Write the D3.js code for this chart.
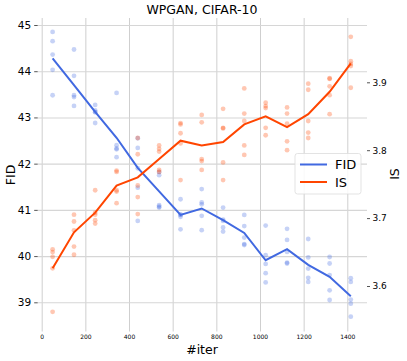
<!DOCTYPE html>
<html>
<head>
<meta charset="utf-8">
<script src="https://cdn.jsdelivr.net/npm/d3@7"></script>
<style>
  body { margin: 0; background: #fff; }
  text { font-family: "DejaVu Sans", sans-serif; fill: #000; }
</style>
</head>
<body>
<svg id="chart"></svg>
<script>
const iters = [50, 148, 245, 343, 440, 538, 636, 733, 831, 928, 1026, 1124, 1221, 1319, 1416];

const fidMean = [44.28, 43.70, 43.12, 42.56, 41.91, 41.40, 40.89, 41.03, 40.78, 40.50, 39.91, 40.15, 39.81, 39.55, 39.13];
const isMean = [3.626, 3.679, 3.708, 3.748, 3.760, 3.787, 3.814, 3.807, 3.812, 3.838, 3.850, 3.834, 3.853, 3.886, 3.928];

const fidRuns = [
  [44.85, 44.65, 44.36, 44.03, 43.48],
  [44.47, 43.90, 43.48, 43.44, 43.25],
  [43.27, 43.15, 43.12, 43.11, 42.88],
  [43.53, 42.40, 42.33, 42.31, 42.14],
  [42.55, 42.34, 41.90, 41.48, 40.76],
  [41.82, 41.75, 41.10, 41.07, 41.05],
  [41.23, 40.90, 40.89, 40.85, 40.58],
  [41.45, 41.16, 41.12, 40.87, 40.56],
  [41.05, 40.79, 40.76, 40.62, 40.53],
  [40.89, 40.65, 40.40, 40.26, 40.24],
  [40.66, 40.02, 39.83, 39.63, 39.43],
  [40.59, 40.35, 40.09, 39.86, 39.84],
  [40.37, 39.97, 39.73, 39.53, 39.44],
  [39.98, 39.84, 39.59, 39.26, 39.05],
  [39.52, 39.44, 39.06, 38.97, 38.69]
];

const isRuns = [
  [3.654, 3.650, 3.643, 3.626, 3.562],
  [3.705, 3.695, 3.682, 3.658, 3.646],
  [3.741, 3.708, 3.705, 3.697, 3.692],
  [3.770, 3.768, 3.741, 3.739, 3.722],
  [3.818, 3.794, 3.748, 3.731, 3.706],
  [3.807, 3.802, 3.798, 3.771, 3.768],
  [3.840, 3.838, 3.825, 3.810, 3.756],
  [3.852, 3.841, 3.787, 3.784, 3.771],
  [3.861, 3.833, 3.832, 3.782, 3.756],
  [3.891, 3.854, 3.843, 3.807, 3.793],
  [3.870, 3.865, 3.862, 3.833, 3.822],
  [3.863, 3.854, 3.839, 3.813, 3.800],
  [3.898, 3.889, 3.843, 3.826, 3.818],
  [3.906, 3.905, 3.894, 3.881, 3.853],
  [3.967, 3.931, 3.927, 3.924, 3.892]
];

const xTicks = [0, 200, 400, 600, 800, 1000, 1200, 1400];
const fidTicks = [39, 40, 41, 42, 43, 44, 45];
const isTicks = [3.6, 3.7, 3.8, 3.9];

const width = 407;
const height = 361;
const plot = { left: 37.7, right: 367, top: 18, bottom: 328 };

const blue = "#4169e1";
const orange = "#ff4500";

const svg = d3.select("#chart")
  .attr("width", width)
  .attr("height", height);

const xScale = d3.scaleLinear().domain([0, 1400]).range([41.7, 347.3]);
const yFid = d3.scaleLinear().domain([39, 45]).range([302.3, 25]);
const yIs = d3.scaleLinear().domain([3.6, 3.9]).range([286, 82.3]);

// grid
svg.append("g")
  .attr("transform", `translate(0, ${plot.bottom})`)
  .call(d3.axisBottom(xScale).tickValues(xTicks).tickSize(-(plot.bottom - plot.top)).tickFormat(""))
  .call(g => g.select(".domain").remove())
  .call(g => g.selectAll("line").attr("stroke", "#cfcfcf").attr("stroke-width", 1));

svg.append("g")
  .attr("transform", `translate(${plot.left}, 0)`)
  .call(d3.axisLeft(yFid).tickValues(fidTicks).tickSize(-(plot.right - plot.left)).tickFormat(""))
  .call(g => g.select(".domain").remove())
  .call(g => g.selectAll("line").attr("stroke", "#d6d6d6").attr("stroke-width", 1.1));

// axes (ticks + labels)
const xAxis = svg.append("g")
  .attr("transform", `translate(0, ${plot.bottom})`)
  .call(d3.axisBottom(xScale).tickValues(xTicks).tickSize(3.5).tickPadding(3).tickFormat(d3.format("d")));
xAxis.select(".domain").remove();
xAxis.selectAll("line").attr("stroke", "#cfcfcf");
xAxis.selectAll("text").style("font-size", "6px");

const leftAxis = svg.append("g")
  .attr("transform", `translate(${plot.left}, 0)`)
  .call(d3.axisLeft(yFid).tickValues(fidTicks).tickSize(3.5).tickPadding(3).tickFormat(d3.format("d")));
leftAxis.select(".domain").remove();
leftAxis.selectAll("line").attr("stroke", "#555");
leftAxis.selectAll("text").style("font-size", "10.5px");

const rightAxis = svg.append("g")
  .attr("transform", `translate(${plot.right}, 0)`)
  .call(d3.axisRight(yIs).tickValues(isTicks).tickSize(3).tickPadding(2.5).tickFormat(d3.format(".1f")));
rightAxis.select(".domain").remove();
rightAxis.selectAll("line").attr("stroke", "#555");
rightAxis.selectAll("text").style("font-size", "9px");

// scatter of individual runs
const fidPts = fidRuns.flatMap((runs, i) => runs.map(v => ({ x: iters[i], y: v })));
const isPts = isRuns.flatMap((runs, i) => runs.map(v => ({ x: iters[i], y: v })));

svg.append("g").selectAll("circle")
  .data(fidPts)
  .enter()
  .append("circle")
  .attr("cx", d => xScale(d.x))
  .attr("cy", d => yFid(d.y))
  .attr("r", 2.4)
  .attr("fill", blue)
  .attr("fill-opacity", 0.3);

svg.append("g").selectAll("circle")
  .data(isPts)
  .enter()
  .append("circle")
  .attr("cx", d => xScale(d.x))
  .attr("cy", d => yIs(d.y))
  .attr("r", 2.4)
  .attr("fill", orange)
  .attr("fill-opacity", 0.3);

// mean lines
const fidLine = d3.line().x((d, i) => xScale(iters[i])).y(d => yFid(d));
const isLine = d3.line().x((d, i) => xScale(iters[i])).y(d => yIs(d));

svg.append("path")
  .datum(fidMean)
  .attr("d", fidLine)
  .attr("fill", "none")
  .attr("stroke", blue)
  .attr("stroke-width", 2);

svg.append("path")
  .datum(isMean)
  .attr("d", isLine)
  .attr("fill", "none")
  .attr("stroke", orange)
  .attr("stroke-width", 2);

// titles
svg.append("text")
  .attr("x", 202)
  .attr("y", 14)
  .attr("text-anchor", "middle")
  .style("font-size", "12.5px")
  .text("WPGAN, CIFAR-10");

svg.append("text")
  .attr("x", 202)
  .attr("y", 354)
  .attr("text-anchor", "middle")
  .style("font-size", "12.5px")
  .text("#iter");

svg.append("text")
  .attr("transform", "translate(15, 175) rotate(-90)")
  .attr("text-anchor", "middle")
  .style("font-size", "12.5px")
  .text("FID");

svg.append("text")
  .attr("transform", "translate(399, 174) rotate(-90)")
  .attr("text-anchor", "middle")
  .style("font-size", "12.5px")
  .text("IS");

// legend
const legend = svg.append("g").attr("transform", "translate(295, 153.5)");
legend.append("rect")
  .attr("width", 66)
  .attr("height", 40.5)
  .attr("rx", 2.5)
  .attr("fill", "#fff")
  .attr("fill-opacity", 0.85)
  .attr("stroke", "#dcdcdc")
  .attr("stroke-width", 0.8);

const legendItems = [{ name: "FID", color: blue }, { name: "IS", color: orange }];
legendItems.forEach((item, i) => {
  const y = 11 + i * 17.5;
  legend.append("line")
    .attr("x1", 5).attr("x2", 32)
    .attr("y1", y).attr("y2", y)
    .attr("stroke", item.color)
    .attr("stroke-width", 2);
  legend.append("text")
    .attr("x", 40)
    .attr("y", y + 4.7)
    .style("font-size", "13px")
    .text(item.name);
});
</script>
</body>
</html>
